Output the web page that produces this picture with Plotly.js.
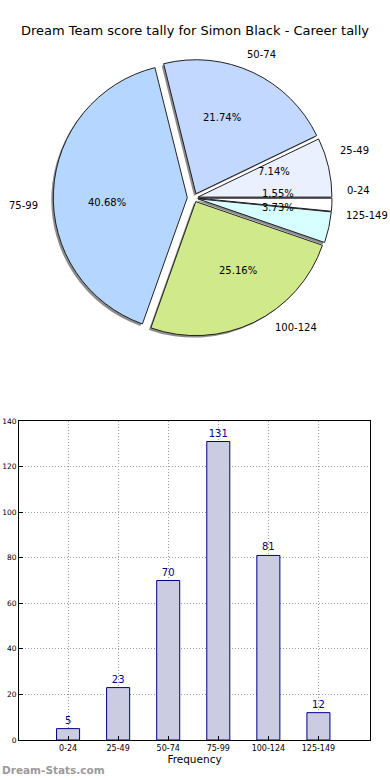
<!DOCTYPE html>
<html>
<head>
<meta charset="utf-8">
<script src="https://cdn.plot.ly/plotly-3.0.1.min.js"></script>
<style>html,body{margin:0;padding:0;background:#fff;}#chart{width:390px;height:780px;}</style>
</head>
<body>
<div id="chart"></div>
<script>
var categories = ["0-24", "25-49", "50-74", "75-99", "100-124", "125-149"];
var counts = [5, 23, 70, 131, 81, 12];
var pieColors = ["#ffffff", "#eaf0fe", "#c3d8ff", "#b5d6ff", "#d0ea8b", "#d8ffff"];
var piePull = [0.03, 0.03, 0.035, 0.05, 0.03, 0.03];
var yTicks = [0, 20, 40, 60, 80, 100, 120, 140];

var W = 390, H = 780;
var cx = 194, cy = 198, r = 134, maxPull = Math.max.apply(null, piePull);
var half = r * (1 + maxPull);
function dom(dx, dy) {
  return {
    x: [(cx - half + dx) / W, (cx + half + dx) / W],
    y: [(H - cy - half - dy) / H, (H - cy + half - dy) / H]
  };
}
var font = "DejaVu Sans, sans-serif";

var shadow = {
  type: "pie", labels: categories, values: counts, sort: false,
  direction: "counterclockwise", rotation: 90, pull: piePull,
  domain: dom(-2, 2),
  marker: {colors: categories.map(function(){return "#8c8c8c";}), line: {width: 0}},
  textinfo: "none", hoverinfo: "skip", showlegend: false
};
var main = {
  type: "pie", labels: categories, values: counts, sort: false,
  direction: "counterclockwise", rotation: 90, pull: piePull,
  domain: dom(0, 0),
  marker: {colors: pieColors, line: {color: "#222222", width: 1}},
  textinfo: "none", showlegend: false
};
var bars = {
  type: "bar", x: categories, y: counts, xaxis: "x", yaxis: "y",
  width: 0.46,
  marker: {color: "#cbcbe2", line: {color: "#000080", width: 1}},
  text: counts.map(String), textposition: "outside", cliponaxis: false,
  textfont: {family: font, size: 10, color: "#000080"},
  showlegend: false, hoverinfo: "x+y"
};

// Pie label / percentage annotations, placed the way the original (matplotlib) places them:
// percentages at 0.6 radius, labels at 1.1 radius, both shifted by the slice's pull.
var total = counts.reduce(function(a, b){return a + b;}, 0);
var pieAnn = [];
var acc = 0;
counts.forEach(function(v, i) {
  var a0 = acc / total * 360, a1 = (acc + v) / total * 360;
  acc += v;
  var mid = (a0 + a1) / 2 * Math.PI / 180;
  var c = Math.cos(mid), s = Math.sin(mid);
  var p = piePull[i];
  pieAnn.push({
    text: (v / total * 100).toFixed(2) + "%", xref: "paper", yref: "paper",
    x: (cx + (p + 0.6) * r * c) / W, y: (H - cy + (p + 0.6) * r * s) / H,
    xanchor: "center", yanchor: "middle", showarrow: false,
    font: {family: font, size: 10, color: "#000"}
  });
  pieAnn.push({
    text: categories[i], xref: "paper", yref: "paper",
    x: (cx + (p + 1.1) * r * c) / W, y: (H - cy + (p + 1.1) * r * s) / H,
    xanchor: c >= 0 ? "left" : "right", yanchor: "middle", showarrow: false,
    font: {family: font, size: 10, color: "#000"}
  });
});

var layout = {
  width: W, height: H,
  margin: {l: 0, r: 0, t: 0, b: 0},
  paper_bgcolor: "#fff", plot_bgcolor: "#fff",
  font: {family: font, color: "#000"},
  title: {text: "Dream Team score tally for Simon Black - Career tally",
    font: {family: font, size: 13, color: "#000"},
    x: 0.5, xanchor: "center", y: 1 - 30 / H, yanchor: "middle", yref: "container"},
  xaxis: {
    domain: [19 / W, 370 / W], anchor: "y",
    type: "category", range: [-0.98, 6.03],
    showline: true, linecolor: "#000", linewidth: 1, mirror: true,
    ticks: "inside", ticklen: 4, tickcolor: "#000",
    showgrid: true, gridcolor: "#9a9a9a", griddash: "1px,2px", gridwidth: 1,
    tickfont: {family: font, size: 8, color: "#000"},
    title: {text: "Frequency", font: {family: font, size: 10.5, color: "#000"}, standoff: 4},
    zeroline: false, fixedrange: true
  },
  yaxis: {
    domain: [(H - 740) / H, (H - 421) / H], anchor: "x",
    range: [0, 140], tickvals: yTicks,
    showline: true, linecolor: "#000", linewidth: 1, mirror: true,
    ticks: "inside", ticklen: 4, tickcolor: "#000",
    showgrid: true, gridcolor: "#9a9a9a", griddash: "1px,2px", gridwidth: 1,
    tickfont: {family: font, size: 7.5, color: "#000"},
    zeroline: false, fixedrange: true
  },
  annotations: pieAnn.concat([{
    text: "<b>Dream-Stats.com</b>", xref: "paper", yref: "paper",
    x: 0, y: 10 / H, xanchor: "left", yanchor: "middle", showarrow: false,
    font: {family: font, size: 10.5, color: "#9a9a9a"}
  }])
};

Plotly.newPlot("chart", [shadow, main, bars], layout, {displayModeBar: false, staticPlot: true});
</script>
</body>
</html>
